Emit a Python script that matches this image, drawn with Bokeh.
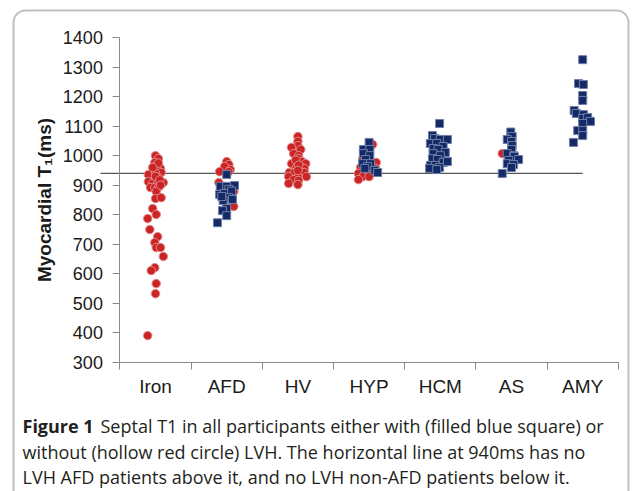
from bokeh.plotting import figure
from bokeh.models import ColumnDataSource, FixedTicker, Label, BoxAnnotation, Range1d
from bokeh.embed import file_html
from bokeh.resources import INLINE

# ---------------- data ----------------
categories = ["Iron", "AFD", "HV", "HYP", "HCM", "AS", "AMY"]
y_ticks = [300, 400, 500, 600, 700, 800, 900, 1000, 1100, 1200, 1300, 1400]
threshold = 940  # ms

# without LVH (red circles): septal T1 values (ms) and horizontal spread (category units)
iron_red = [1000, 990, 977, 967, 957, 950, 943, 936, 940, 926, 912, 906, 906, 909, 892, 892, 892,
            879, 855, 858, 821, 801, 787, 750, 726, 706, 689, 689, 659, 621, 611, 567, 533, 391,
            975, 960, 930, 918, 900]
iron_red_dx = [0, 0.04, -0.01, 0.01, 0.07, 0.03, 0.08, -0.10, 0, 0.04, -0.10, -0.04, 0.03, 0.11,
               -0.07, -0.01, 0.04, 0.01, 0, 0.08, -0.04, 0.01, -0.11, -0.08, 0.03, -0.01, 0.01,
               0.07, 0.11, -0.01, -0.06, 0.01, 0, -0.11, 0.04, -0.04, 0, 0.06, 0.07]
afd_red = [980, 970, 963, 953, 946, 946, 909, 879, 828]
afd_red_dx = [0, 0.03, -0.03, 0.05, -0.10, 0.03, -0.11, 0.10, 0.10]
hv_red = [1065, 1048, 1034, 1028, 1021, 1007, 1000, 990, 980, 973, 973, 960, 960, 957, 943, 943,
          943, 943, 929, 929, 929, 919, 916, 906, 902, 985, 968, 950]
hv_red_dx = [0, 0, 0, -0.09, 0.04, -0.06, 0.01, 0.01, 0.06, -0.09, 0.11, -0.02, 0.05, 0.09, -0.12,
             -0.05, 0.04, 0.09, -0.13, 0, 0.12, -0.06, 0.01, -0.13, 0, -0.03, 0.01, 0]
hyp_red = [1038, 987, 977, 960, 957, 943, 940, 929, 929, 919]
hyp_red_dx = [0.05, -0.09, 0.10, -0.12, 0.09, -0.02, -0.15, -0.09, 0, -0.15]
as_red = [1007, 984]
as_red_dx = [-0.13, 0]

# with LVH (blue squares)
afd_blue = [936, 896, 896, 899, 886, 869, 872, 880, 858, 852, 848, 862, 821, 814, 797, 773]
afd_blue_dx = [0, -0.09, 0, 0.11, 0.03, -0.10, -0.03, 0.07, 0.03, 0.08, -0.05, -0.07, 0, -0.06, 0,
               -0.13]
hyp_blue = [1045, 1021, 1021, 1007, 1000, 987, 973, 973, 963, 957, 950, 943]
hyp_blue_dx = [0, -0.08, 0.01, -0.08, 0.01, -0.05, -0.09, 0.02, -0.02, -0.06, 0.08, 0.12]
hcm_blue = [1109, 1068, 1058, 1055, 1055, 1041, 1041, 1031, 1024, 1021, 1011, 1007, 1000, 990,
            987, 977, 967, 967, 960, 957, 953, 980]
hcm_blue_dx = [-0.01, -0.11, -0.08, 0, 0.10, -0.14, -0.05, 0.04, -0.10, -0.03, 0.07, -0.10, 0,
               -0.11, -0.04, 0.04, -0.14, -0.07, -0.01, -0.15, -0.05, 0.10]
as_blue = [1080, 1065, 1055, 1048, 1034, 1021, 1007, 1000, 997, 987, 984, 973, 970, 960, 940]
as_blue_dx = [-0.01, 0.01, -0.06, 0, 0.01, 0, -0.06, 0.03, 0.04, 0.10, -0.04, -0.06, 0.03, 0,
              -0.13]
amy_blue = [1325, 1244, 1241, 1204, 1187, 1153, 1143, 1139, 1126, 1129, 1116, 1109, 1085, 1085,
            1068, 1045]
amy_blue_dx = [0, -0.06, 0.01, 0, 0, -0.12, -0.09, 0.01, 0, 0.07, 0.11, 0, -0.07, 0, 0, -0.13]

caption_bold = "Figure 1"
caption_lines = [
    "Septal T1 in all participants either with (filled blue square) or",
    "without (hollow red circle) LVH. The horizontal line at 940ms has no",
    "LVH AFD patients above it, and no LVH non-AFD patients below it.",
]

# ---------------- build sources ----------------
def build(groups):
    xs, ys = [], []
    for cat, vals, dxs in groups:
        i = categories.index(cat)
        for v, d in zip(vals, dxs):
            xs.append(i + d)
            ys.append(v)
    return ColumnDataSource(dict(x=xs, y=ys))

red_src = build([("Iron", iron_red, iron_red_dx), ("AFD", afd_red, afd_red_dx),
                 ("HV", hv_red, hv_red_dx), ("HYP", hyp_red, hyp_red_dx),
                 ("AS", as_red, as_red_dx)])
blue_src = build([("AFD", afd_blue, afd_blue_dx), ("HYP", hyp_blue, hyp_blue_dx),
                  ("HCM", hcm_blue, hcm_blue_dx), ("AS", as_blue, as_blue_dx),
                  ("AMY", amy_blue, amy_blue_dx)])

# ---------------- layout (pixels on the page) ----------------
W, H = 633, 491
FIRST_CAT_PX = 155.0   # centre of first category
CAT_STEP_PX = 71.2     # distance between category centres
Y_LO_PX, Y_HI_PX = 362.0, 37.0   # pixel rows of the lowest / highest y tick
px_per_x = CAT_STEP_PX
px_per_y = (Y_LO_PX - Y_HI_PX) / (y_ticks[-1] - y_ticks[0])

def page_x(px):
    return (px - FIRST_CAT_PX) / px_per_x

def page_y(py):
    return y_ticks[0] + (Y_LO_PX - py) / px_per_y

# the plotting frame covers the whole canvas so that axes and captions are not clipped
p = figure(width=W, height=H, x_range=Range1d(page_x(0), page_x(W)),
           y_range=Range1d(page_y(H), page_y(0)),
           output_backend="svg", toolbar_location=None,
           min_border_left=0, min_border_right=0, min_border_top=0, min_border_bottom=0)
p.xgrid.visible = False
p.ygrid.visible = False
p.outline_line_color = None
p.background_fill_color = "white"
p.border_fill_color = "white"

axis_col = "#8a8a8a"
text_col = "#1a1a1a"
left_edge = -0.5
right_edge = len(categories) - 0.5

# y axis
p.yaxis.fixed_location = left_edge
p.yaxis.bounds = (y_ticks[0], y_ticks[-1])
p.yaxis.ticker = FixedTicker(ticks=y_ticks)
p.yaxis.axis_line_color = axis_col
p.yaxis.major_tick_line_color = axis_col
p.yaxis.major_tick_out = 7
p.yaxis.major_tick_in = 0
p.yaxis.minor_tick_line_color = None
p.yaxis.major_label_text_font = "Liberation Sans"
p.yaxis.major_label_text_font_size = "18px"
p.yaxis.major_label_text_color = text_col
p.yaxis.major_label_standoff = 10
p.yaxis.axis_label = "Myocardial T\u2081(ms)"
p.yaxis.axis_label_text_font = "Liberation Sans"
p.yaxis.axis_label_text_font_style = "bold"
p.yaxis.axis_label_text_font_size = "19px"
p.yaxis.axis_label_text_color = text_col
p.yaxis.axis_label_standoff = 4

# x axis: labels at category centres, ticks at boundaries
centres = list(range(len(categories)))
bounds = [i - 0.5 for i in range(len(categories) + 1)]
p.xaxis.fixed_location = y_ticks[0]
p.xaxis.ticker = FixedTicker(ticks=centres, minor_ticks=bounds)
p.xaxis.major_label_overrides = {i: c for i, c in enumerate(categories)}
p.xaxis.bounds = (left_edge, right_edge)
p.xaxis.axis_line_color = axis_col
p.xaxis.major_tick_out = 0
p.xaxis.major_tick_in = 0
p.xaxis.minor_tick_out = 7
p.xaxis.minor_tick_in = 0
p.xaxis.minor_tick_line_color = axis_col
p.xaxis.major_label_text_font = "Liberation Sans"
p.xaxis.major_label_text_font_size = "19px"
p.xaxis.major_label_text_color = text_col
p.xaxis.major_label_standoff = 6

# threshold line
p.line(x=[page_x(100), len(categories) - 1], y=[threshold, threshold], line_color="#555555",
       line_width=1.2)

# markers
p.scatter("x", "y", source=red_src, marker="circle", size=8.5, fill_color="#cc2424",
          line_color="#e08c8c", line_width=1)
p.scatter("x", "y", source=blue_src, marker="square", size=8, fill_color="#142a66",
          line_color="#7080a8", line_width=1)

# frame border
p.add_layout(BoxAnnotation(left=page_x(13), right=page_x(628), top=page_y(10), bottom=page_y(540),
                           fill_color=None, line_color="#333333", line_width=2,
                           border_radius=12))

# caption
cap_font = "Open Sans"
cap_size = "18px"
cap_col = "#231f20"
p.add_layout(Label(x=page_x(22), y=page_y(425), text=caption_bold, text_font=cap_font,
                   text_font_style="bold", text_font_size=cap_size, text_color=cap_col,
                   text_baseline="middle"))
p.add_layout(Label(x=page_x(100), y=page_y(425), text=caption_lines[0], text_font=cap_font,
                   text_font_size=cap_size, text_color=cap_col, text_baseline="middle"))
for k, line in enumerate(caption_lines[1:]):
    p.add_layout(Label(x=page_x(22), y=page_y(451 + 25 * k), text=line, text_font=cap_font,
                       text_font_size=cap_size, text_color=cap_col, text_baseline="middle"))

open("out.html", "w").write(file_html(p, INLINE))
